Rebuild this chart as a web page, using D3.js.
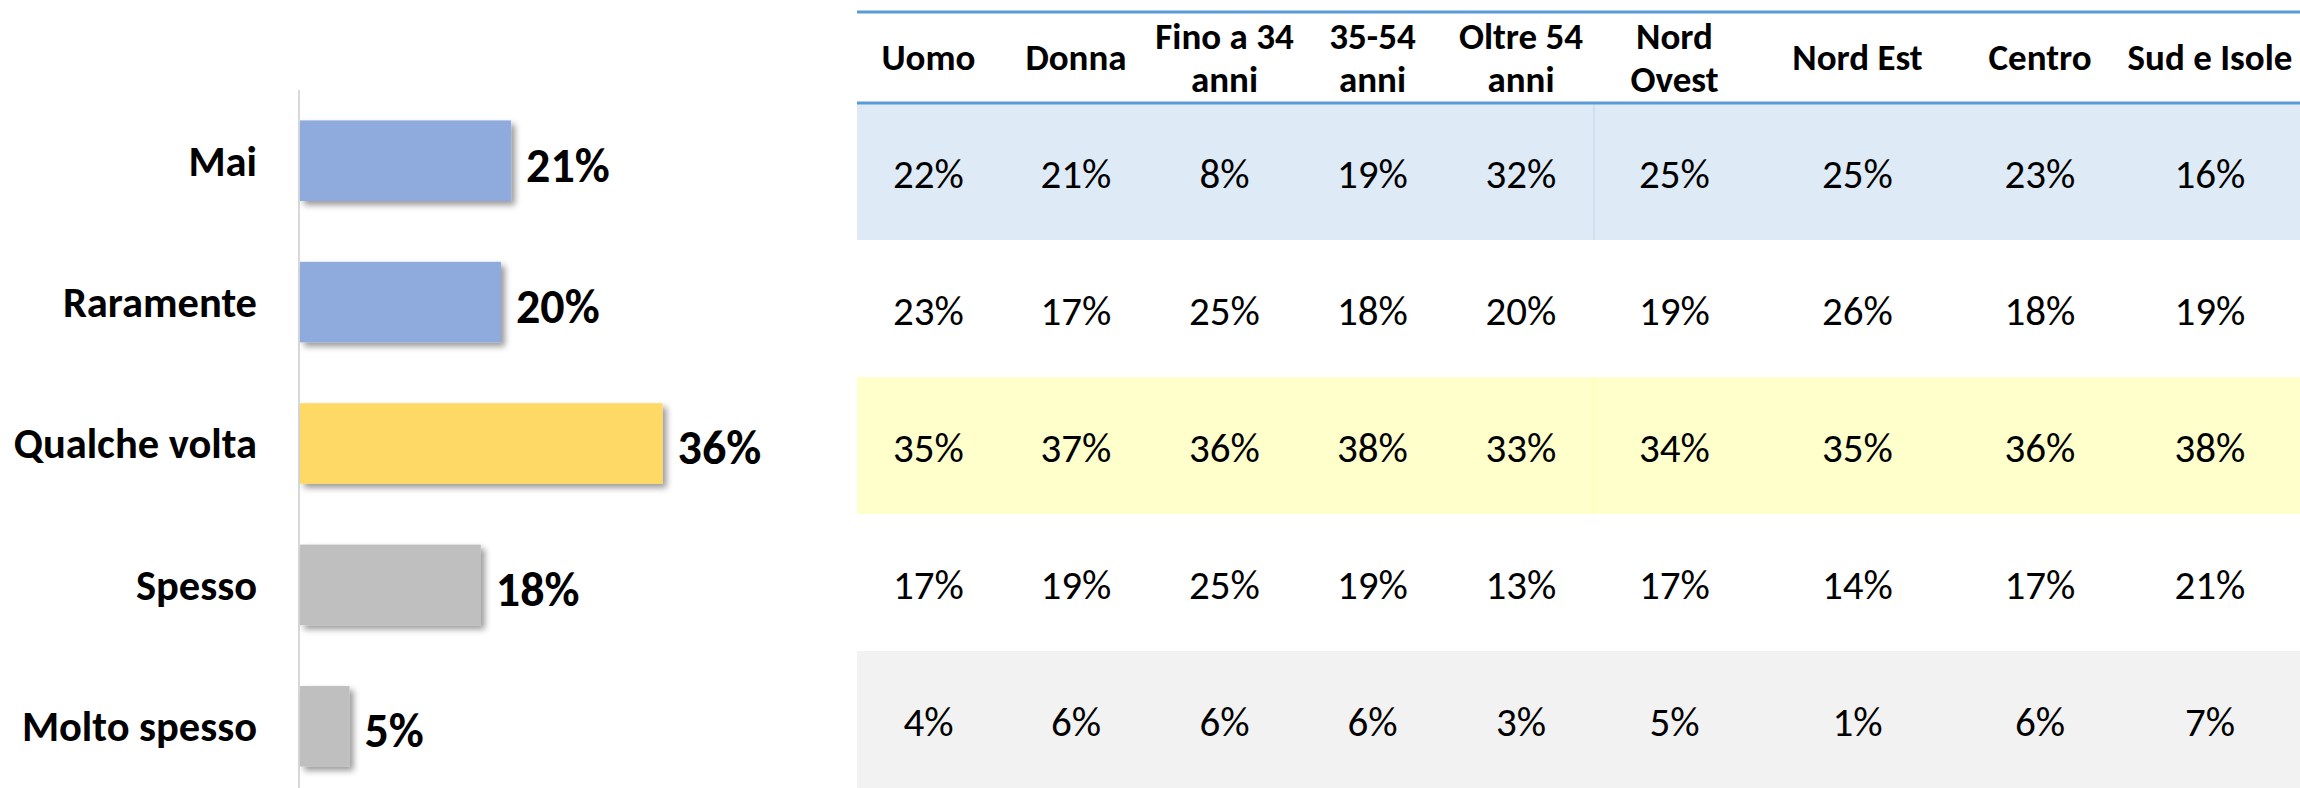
<!DOCTYPE html>
<html lang="it">
<head>
<meta charset="utf-8">
<title>Frequenza</title>
<script src="https://cdn.jsdelivr.net/npm/d3@7"></script>
<style>
  body { margin: 0; background: #fff; }
  svg { display: block; }
  text { font-family: Carlito, Lato, "Liberation Sans Narrow", sans-serif; }
</style>
</head>
<body>
<script>
// risposte e totale (%)
var categories = ["Mai", "Raramente", "Qualche volta", "Spesso", "Molto spesso"];
var totals = [21, 20, 36, 18, 5];

// colonne della tabella
var columns = ["Uomo", "Donna", "Fino a 34 anni", "35-54 anni", "Oltre 54 anni",
               "Nord Ovest", "Nord Est", "Centro", "Sud e Isole"];
var headerLines = [["Uomo"], ["Donna"], ["Fino a 34", "anni"], ["35-54", "anni"],
                   ["Oltre 54", "anni"], ["Nord", "Ovest"], ["Nord Est"], ["Centro"], ["Sud e Isole"]];

var rowMai         = [22, 21, 8, 19, 32, 25, 25, 23, 16];
var rowRaramente   = [23, 17, 25, 18, 20, 19, 26, 18, 19];
var rowQualche     = [35, 37, 36, 38, 33, 34, 35, 36, 38];
var rowSpesso      = [17, 19, 25, 19, 13, 17, 14, 17, 21];
var rowMoltoSpesso = [4, 6, 6, 6, 3, 5, 1, 6, 7];
var rows = [rowMai, rowRaramente, rowQualche, rowSpesso, rowMoltoSpesso];

var w = 2300, h = 788;

var barColors = ["#8faadc", "#8faadc", "#ffd966", "#bfbfbf", "#bfbfbf"];
var rowFills = ["#deeaf6", "#ffffff", "#ffffcc", "#ffffff", "#f2f2f2"];
var rowLines = ["#bdd7ee", "#ffffff", "#ffff99", "#ffffff", "#f2f2f2"];

var svg = d3.select("body").append("svg")
    .attr("width", w)
    .attr("height", h);

var defs = svg.append("defs");
defs.append("filter")
    .attr("id", "shadow")
    .attr("x", "-10%").attr("y", "-10%")
    .attr("width", "130%").attr("height", "140%")
  .append("feDropShadow")
    .attr("dx", 4).attr("dy", 4)
    .attr("stdDeviation", 3)
    .attr("flood-color", "#000")
    .attr("flood-opacity", 0.4);

// ---- bar chart ----
var xScale = d3.scaleLinear()
    .domain([0, 100])
    .range([299, 1309]);

var yScale = d3.scaleBand()
    .domain(categories)
    .range([90, 797])
    .paddingInner(0.43)
    .paddingOuter(0.215);

svg.append("line")
   .attr("x1", xScale(0)).attr("x2", xScale(0))
   .attr("y1", 90).attr("y2", h)
   .attr("stroke", "#d9d9d9")
   .attr("stroke-width", 2);

svg.selectAll("rect.bar")
   .data(totals)
   .enter()
   .append("rect")
   .attr("class", "bar")
   .attr("x", xScale(0) + 1)
   .attr("y", function(d, i) { return yScale(categories[i]); })
   .attr("width", function(d) { return xScale(d) - xScale(0) - 1; })
   .attr("height", yScale.bandwidth())
   .attr("fill", function(d, i) { return barColors[i]; })
   .attr("filter", "url(#shadow)");

svg.selectAll("text.cat")
   .data(categories)
   .enter()
   .append("text")
   .attr("class", "cat")
   .text(function(d) { return d; })
   .attr("x", 257)
   .attr("y", function(d) { return yScale(d) + yScale.bandwidth() / 2; })
   .attr("dy", "0.35em")
   .attr("text-anchor", "end")
   .attr("font-weight", "bold")
   .attr("font-size", "42.5px")
   .attr("fill", "#000");

svg.selectAll("text.val")
   .data(totals)
   .enter()
   .append("text")
   .attr("class", "val")
   .text(function(d) { return d + "%"; })
   .attr("x", function(d) { return xScale(d) + 15; })
   .attr("y", function(d, i) { return yScale(categories[i]) + yScale.bandwidth() / 2 + 4; })
   .attr("dy", "0.35em")
   .attr("font-weight", "bold")
   .attr("font-size", "48px")
   .attr("fill", "#000");

// ---- table ----
var tableLeft = 857;
var colWidths = [143, 152, 145, 151, 146, 161, 205, 160, 180];
var colStarts = colWidths.map(function(d, i) {
    return tableLeft + d3.sum(colWidths.slice(0, i));
});
var colX = d3.scaleOrdinal()
    .domain(columns)
    .range(colStarts.map(function(s, i) { return s + colWidths[i] / 2; }));

var headTop = 12, headBottom = 103;
var rowY = d3.scaleBand()
    .domain(categories)
    .range([headBottom, h]);

var rowG = svg.selectAll("g.row")
   .data(rows)
   .enter()
   .append("g")
   .attr("class", "row");

rowG.append("rect")
   .attr("x", tableLeft)
   .attr("y", function(d, i) { return rowY(categories[i]); })
   .attr("width", w - tableLeft)
   .attr("height", rowY.bandwidth())
   .attr("fill", function(d, i) { return rowFills[i]; });

rowG.append("line")
   .attr("x1", colStarts[5]).attr("x2", colStarts[5])
   .attr("y1", function(d, i) { return rowY(categories[i]); })
   .attr("y2", function(d, i) { return rowY(categories[i]) + rowY.bandwidth(); })
   .attr("stroke", function(d, i) { return rowLines[i]; })
   .attr("stroke-width", 1);

rowG.each(function(row, i) {
    d3.select(this).selectAll("text")
      .data(row)
      .enter()
      .append("text")
      .text(function(d) { return d + "%"; })
      .attr("x", function(d, j) { return colX(columns[j]); })
      .attr("y", rowY(categories[i]) + rowY.bandwidth() / 2 + 2)
      .attr("dy", "0.35em")
      .attr("text-anchor", "middle")
      .attr("font-size", "41px")
      .attr("fill", "#000");
});

// header lines
[headTop, headBottom].forEach(function(y) {
    svg.append("line")
       .attr("x1", tableLeft).attr("x2", w)
       .attr("y1", y).attr("y2", y)
       .attr("stroke", "#5b9bd5")
       .attr("stroke-width", 3);
});

svg.selectAll("text.head")
   .data(headerLines)
   .enter()
   .append("text")
   .attr("class", "head")
   .attr("text-anchor", "middle")
   .attr("font-weight", "bold")
   .attr("font-size", "37px")
   .attr("fill", "#000")
   .each(function(lines, j) {
       var t = d3.select(this);
       var mid = (headTop + headBottom) / 2;
       lines.forEach(function(l, k) {
           t.append("tspan")
            .attr("x", colX(columns[j]))
            .attr("y", mid + (k - (lines.length - 1) / 2) * 43)
            .attr("dy", "0.35em")
            .text(l);
       });
   });
</script>
</body>
</html>
